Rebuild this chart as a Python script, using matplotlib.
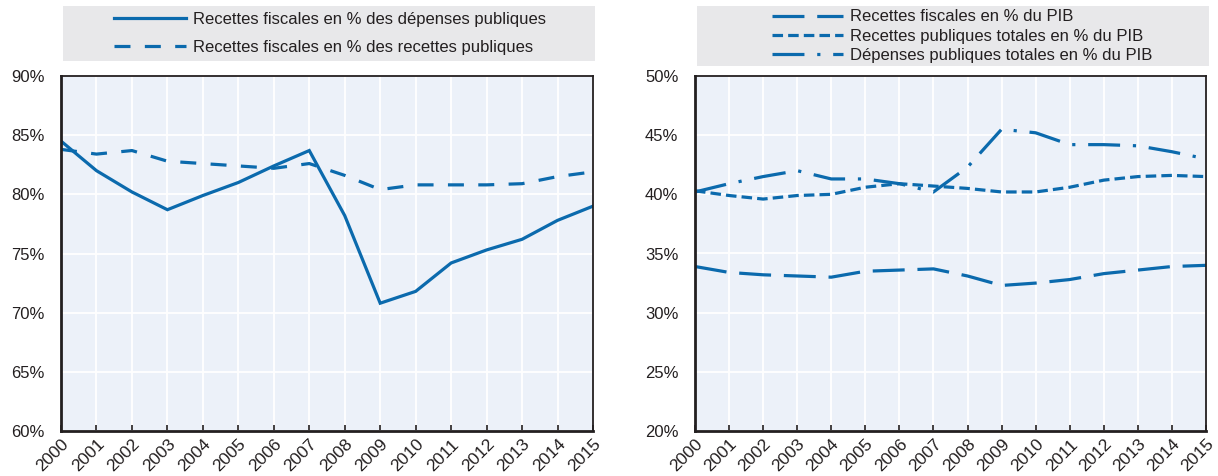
import matplotlib.pyplot as plt
from matplotlib.patches import Rectangle
from matplotlib.ticker import FuncFormatter

years = list(range(2000, 2016))

# left panel (%)
fiscal_vs_spending = [84.5, 82.0, 80.2, 78.7, 79.9, 81.0, 82.4, 83.7, 78.2, 70.8, 71.8, 74.2, 75.3, 76.2, 77.8, 79.0]
fiscal_vs_revenue = [83.8, 83.4, 83.7, 82.8, 82.6, 82.4, 82.2, 82.6, 81.6, 80.4, 80.8, 80.8, 80.8, 80.9, 81.5, 81.9]

# right panel (% of GDP)
tax_gdp = [33.9, 33.4, 33.2, 33.1, 33.0, 33.5, 33.6, 33.7, 33.1, 32.3, 32.5, 32.8, 33.3, 33.6, 33.9, 34.0]
revenue_gdp = [40.3, 39.9, 39.6, 39.9, 40.0, 40.6, 40.9, 40.7, 40.5, 40.2, 40.2, 40.6, 41.2, 41.5, 41.6, 41.5]
spending_gdp = [40.2, 40.9, 41.5, 42.0, 41.3, 41.3, 40.9, 40.2, 42.3, 45.5, 45.2, 44.2, 44.2, 44.1, 43.6, 43.0]

labels_left = ["Recettes fiscales en % des dépenses publiques",
               "Recettes fiscales en % des recettes publiques"]
labels_right = ["Recettes fiscales en % du PIB",
                "Recettes publiques totales en % du PIB",
                "Dépenses publiques totales en % du PIB"]

blue = "#0b6aad"
dark = "#231f20"
plt.rcParams['font.family'] = ['Liberation Sans', 'DejaVu Sans']

W, H = 1218, 476
fig = plt.figure(figsize=(W / 100, H / 100), dpi=100)

def px_axes(x0, x1, y0, y1):
    return fig.add_axes([x0 / W, 1 - y1 / H, (x1 - x0) / W, (y1 - y0) / H])

def style(ax, ylo, yhi):
    ax.set_facecolor("#ecf1f9")
    ax.set_xlim(2000, 2015)
    ax.set_ylim(ylo, yhi)
    ax.set_xticks(years)
    ax.set_xticklabels([str(y) for y in years], rotation=45, ha="right",
                       va="top", rotation_mode="anchor", fontsize=12.5, color=dark)
    ax.set_yticks(range(ylo, yhi + 1, 5))
    ax.yaxis.set_major_formatter(FuncFormatter(lambda v, p: "%d%%" % v))
    ax.tick_params(axis="y", length=0, pad=12, labelsize=12, labelcolor=dark)
    ax.tick_params(axis="x", direction="in", length=4, width=1.2, color=dark, pad=4)
    ax.grid(True, color="white", linewidth=1.3)
    ax.set_axisbelow(True)
    for s in ax.spines.values():
        s.set_color(dark)
        s.set_linewidth(1.3)
    ax.spines["left"].set_linewidth(2)
    ax.spines["bottom"].set_linewidth(2)

def legend_box(x0, x1, y0, y1, handles, labels, cx, spacing):
    fig.patches.append(Rectangle((x0 / W, 1 - y1 / H), (x1 - x0) / W, (y1 - y0) / H,
                                 transform=fig.transFigure, facecolor="#e8e8ea",
                                 edgecolor="none", zorder=0))
    fig.legend(handles, labels, loc="center", bbox_to_anchor=(cx / W, 1 - (y0 + y1) / 2 / H),
               frameon=False, fontsize=12, handlelength=4.3, handletextpad=0.4,
               labelspacing=spacing, borderpad=0, labelcolor=dark)

lw = 2.3

ax1 = px_axes(61, 593, 76, 431)
style(ax1, 60, 90)
l1, = ax1.plot(years, fiscal_vs_spending, color=blue, lw=lw, solid_joinstyle="miter")
l2, = ax1.plot(years, fiscal_vs_revenue, color=blue, lw=lw, dashes=(5, 4.5))
legend_box(63, 595, 6, 61, [l1, l2], labels_left, 330, 0.75)

ax2 = px_axes(695, 1206, 76, 431)
style(ax2, 20, 50)
r1, = ax2.plot(years, tax_gdp, color=blue, lw=lw, dashes=(10, 4))
r2, = ax2.plot(years, revenue_gdp, color=blue, lw=lw, dashes=(3.3, 1.6))
r3, = ax2.plot(years, spending_gdp, color=blue, lw=lw, dashes=(10, 4, 1, 4))
legend_box(697, 1209, 6, 66, [r1, r2, r3], labels_right, 962, 0.25)

fig.savefig("out.png", dpi=100)
